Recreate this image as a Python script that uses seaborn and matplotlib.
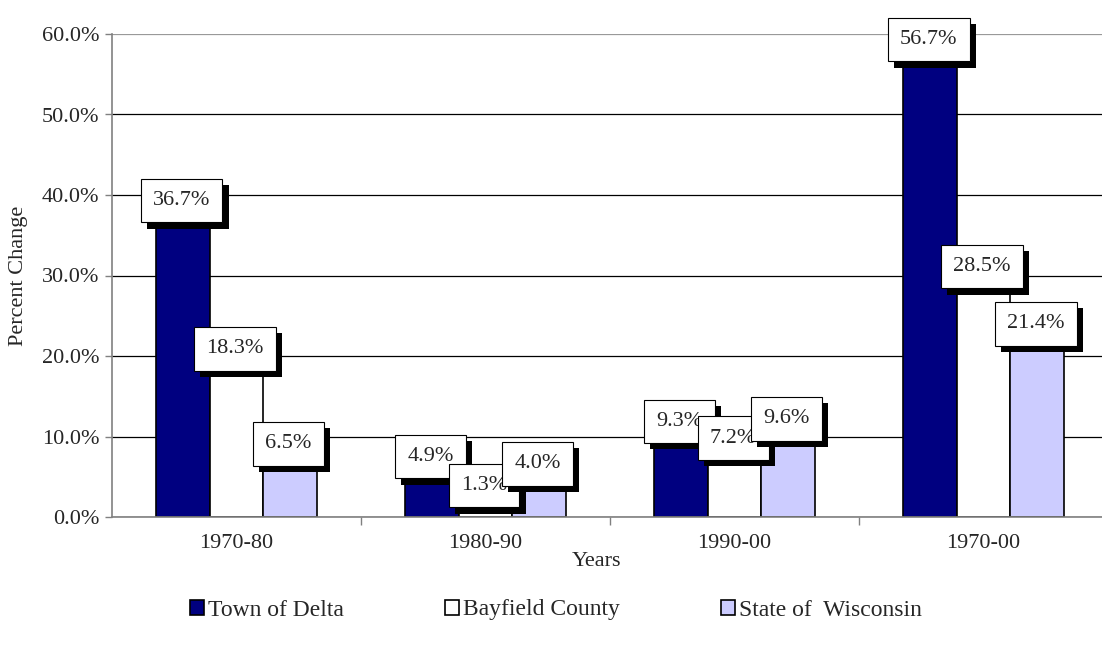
import matplotlib
matplotlib.use('Agg')
import matplotlib.pyplot as plt
import matplotlib.patheffects as pe
from matplotlib.ticker import FuncFormatter, FixedLocator
import pandas as pd
import seaborn as sns

periods = ['1970-80', '1980-90', '1990-00', '1970-00']
delta = [36.7, 4.9, 9.3, 56.7]
bayfield = [18.3, 1.3, 7.2, 28.5]
wisconsin = [6.5, 4.0, 9.6, 21.4]
series_names = ['Town of Delta', 'Bayfield County', 'State of  Wisconsin']
colors = ['#000080', '#FFFFFF', '#CCCCFF']

df = pd.DataFrame({
    'period': periods * 3,
    'value': delta + bayfield + wisconsin,
    'series': [s for s in series_names for _ in periods],
})

sns.set_theme(style='white')
plt.rcParams['font.family'] = ['Liberation Serif', 'DejaVu Serif']

fig = plt.figure(figsize=(11.02, 6.54), dpi=100)
ax = fig.add_axes([112 / 1102, 1 - 517 / 654, 990 / 1102, 483 / 654])

sns.barplot(data=df, x='period', y='value', hue='series', palette=colors,
            width=0.645, edgecolor='black', linewidth=1.2, saturation=1,
            ax=ax, zorder=2)

ax.set_xlim(-0.5, -0.5 + 990 / 249)
ax.set_ylim(0, 60)
ax.set_yticks(range(0, 61, 10))
ax.yaxis.set_major_formatter(FuncFormatter(lambda v, p: '{:.1f}%'.format(v)))
ax.grid(axis='y', color='black', linewidth=0.9)
ax.set_axisbelow(True)
# top gridline looks grey in the original
ax.get_ygridlines()[-1].set_color('#999999')

ax.tick_params(axis='y', which='major', left=True, length=5, width=1, color='#808080',
               labelsize=16, pad=4)
ax.tick_params(axis='x', which='major', bottom=False, labelsize=16, pad=6)
ax.xaxis.set_minor_locator(FixedLocator([0.5, 1.5, 2.5]))
ax.tick_params(axis='x', which='minor', bottom=True, length=6, width=1, color='#808080')

for side in ['top', 'right']:
    ax.spines[side].set_visible(False)
for side in ['left', 'bottom']:
    ax.spines[side].set_color('#808080')
    ax.spines[side].set_linewidth(1.2)

ax.set_xlabel('Years', fontsize=16)
ax.xaxis.set_label_coords((597 - 112) / 990, -0.072)
ax.set_ylabel('Percent Change', fontsize=16, labelpad=10)

# value labels with shadowed boxes
for i, bar in enumerate(ax.patches):
    h = bar.get_height()
    if h != h or bar.get_width() == 0:
        continue
    x = bar.get_x() + bar.get_width() / 2
    t = ax.annotate('{:.1f}%'.format(h), xy=(x, h), xytext=(-1, 15),
                    textcoords='offset points', ha='center', va='center',
                    fontsize=16, zorder=5 + i,
                    bbox=dict(boxstyle='square,pad=0.55', fc='white', ec='black', lw=0.8))
    t.get_bbox_patch().set_path_effects([
        pe.SimplePatchShadow(offset=(4.5, -4.5), shadow_rgbFace='black', alpha=1),
        pe.Normal()])

handles, labels = ax.get_legend_handles_labels()
ax.get_legend().remove()
fig.legend(handles, labels, loc='center', bbox_to_anchor=(556 / 1102, 1 - 610 / 654),
           ncol=3, frameon=False, fontsize=17, handlelength=0.6, handleheight=0.6,
           handletextpad=0.15, columnspacing=4.3)

fig.savefig('out.png', dpi=100)
